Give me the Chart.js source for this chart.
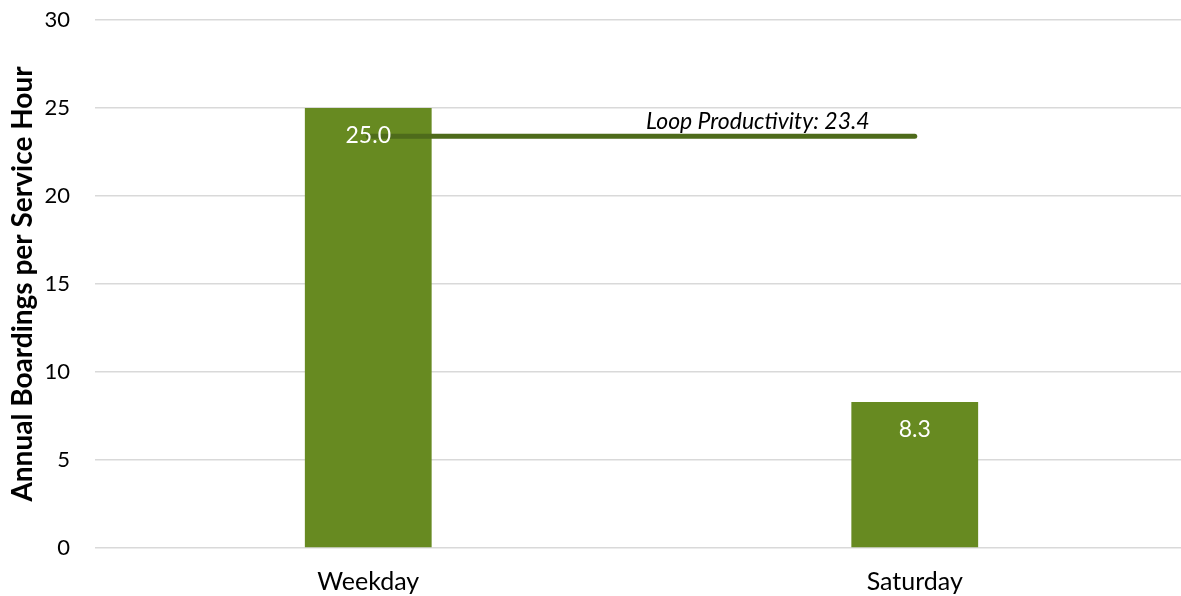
<!DOCTYPE html>
<html>
<head>
<meta charset="utf-8">
<script src="https://cdn.jsdelivr.net/npm/chart.js@4"></script>
<style>
  html, body { margin: 0; padding: 0; background: #fff; overflow: hidden; }
  #wrap { width: 1190px; height: 596px; }
</style>
</head>
<body>
<div id="wrap"><canvas id="chart"></canvas></div>
<script>
// values
const categories = ['Weekday', 'Saturday'];
const boardings = [25.0, 8.3];
const loopProductivity = 23.4;
const loopLabel = 'Loop Productivity: 23.4';
const yMax = 30;
const yStep = 5;

const barColor = '#678a21';
const lineColor = '#4e6b1b';
const fontFamily = 'Lato, "Open Sans", sans-serif';

// bar value labels + loop label, drawn on top of the marks
const labelPlugin = {
    id: 'labels',
    afterDatasetsDraw(chart) {
        const ctx = chart.ctx;
        const meta = chart.getDatasetMeta(0);
        ctx.save();
        ctx.font = '23px ' + fontFamily;
        ctx.fillStyle = '#ffffff';
        ctx.textAlign = 'center';
        ctx.textBaseline = 'middle';
        meta.data.forEach((bar, i) => {
            ctx.fillText(boardings[i].toFixed(1), bar.x, bar.y + 28);
        });

        // label sits above the line, toward the Saturday end
        const x2 = chart.scales.x2;
        const y = chart.scales.y;
        ctx.font = 'italic 23px ' + fontFamily;
        ctx.fillStyle = '#000000';
        ctx.textBaseline = 'bottom';
        ctx.fillText(loopLabel, x2.getPixelForValue(0.713), y.getPixelForValue(loopProductivity) - 3);
        ctx.restore();
    }
};

new Chart(document.getElementById('chart'), {
    type: 'bar',
    data: {
        labels: categories,
        datasets: [
            {
                label: 'Boardings',
                data: boardings,
                backgroundColor: barColor,
                grouped: false,
                categoryPercentage: 1,
                barPercentage: 0.232,
                order: 1
            },
            {
                type: 'line',
                label: 'Loop Productivity',
                data: [{ x: 0, y: loopProductivity }, { x: 1, y: loopProductivity }],
                xAxisID: 'x2',
                borderColor: lineColor,
                borderWidth: 5,
                borderCapStyle: 'round',
                pointRadius: 0,
                order: 0
            }
        ]
    },
    options: {
        responsive: true,
        maintainAspectRatio: false,
        animation: false,
        layout: { padding: { top: 20, right: 2, bottom: 0, left: 0 } },
        plugins: {
            legend: { display: false },
            tooltip: { enabled: false }
        },
        scales: {
            x: {
                grid: { display: false },
                border: { display: false },
                ticks: { color: '#000', font: { family: fontFamily, size: 25 }, padding: 11 },
                afterFit(scale) { scale.height = 48; }
            },
            x2: {
                type: 'linear',
                display: false,
                offset: false,
                grid: { offset: false },
                min: -0.5,
                max: 1.5
            },
            y: {
                min: 0,
                max: yMax,
                border: { display: false },
                grid: { color: '#d9d9d9', lineWidth: 1.5, drawTicks: true, tickLength: 23, tickColor: 'rgba(0,0,0,0)' },
                ticks: { stepSize: yStep, color: '#000', font: { family: fontFamily, size: 22, lineHeight: 1 }, padding: 2 },
                title: {
                    display: true,
                    text: 'Annual Boardings per Service Hour',
                    color: '#000',
                    font: { family: fontFamily, size: 28, weight: 'bold' },
                    padding: { top: 6, bottom: 0 }
                },
                afterFit(scale) { scale.width = 95; }
            }
        }
    },
    plugins: [labelPlugin]
});
</script>
</body>
</html>
